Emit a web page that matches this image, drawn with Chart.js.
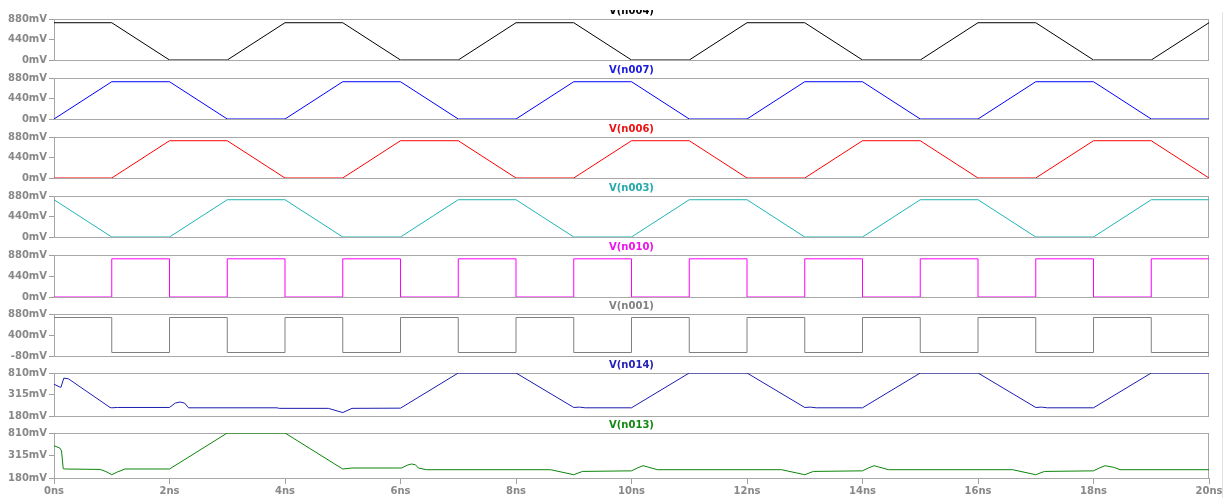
<!DOCTYPE html>
<html><head><meta charset="utf-8">
<script src="https://cdn.jsdelivr.net/npm/chart.js@4.4.1/dist/chart.umd.min.js"></script>
<style>
html,body{margin:0;padding:0;background:#fff;width:1225px;height:498px;overflow:hidden;}
#wrap{position:relative;width:1225px;height:498px;}
canvas{position:absolute;left:0;}
#topmask{position:absolute;left:0;top:0;width:1225px;height:10px;background:#fff;z-index:5;}
#edge{position:absolute;left:1222px;top:12px;width:1px;height:486px;background:#e2e2e2;z-index:4;}
</style></head><body><div id="wrap"><div id="topmask"></div><div id="edge"></div></div>
<script>
// ---------- DATA ----------
const traceNames = ["V(n004)","V(n007)","V(n006)","V(n003)","V(n010)","V(n001)","V(n014)","V(n013)"];

// time points (ns)
const tTrap = [0,1,2,3,4,5,6,7,8,9,10,11,12,13,14,15,16,17,18,19,20];
const vN004 = [800,800,0,0,800,800,0,0,800,800,0,0,800,800,0,0,800,800,0,0,800];
const vN007 = [0,800,800,0,0,800,800,0,0,800,800,0,0,800,800,0,0,800,800,0,0];
const vN006 = [0,0,800,800,0,0,800,800,0,0,800,800,0,0,800,800,0,0,800,800,0];
const vN003 = [800,0,0,800,800,0,0,800,800,0,0,800,800,0,0,800,800,0,0,800,800];
// square waves (value held from t[i] to t[i+1])
const vN010 = [0,800,0,800,0,800,0,800,0,800,0,800,0,800,0,800,0,800,0,800,800];
const vN001 = [800,0,800,0,800,0,800,0,800,0,800,0,800,0,800,0,800,0,800,0,0];

const tN014 = [0,0.1,0.12,0.17,0.25,0.97,1.0,1.1,2.0,2.1,2.18,2.26,2.33,3.86,3.9,4.75,5.0,5.16,6.0,7.0,8.0,9.0,9.1,9.2,10.0,11.0,12.0,13.0,13.1,13.2,14.0,15.0,16.0,17.0,17.1,17.2,18.0,19.0,20.0];
const vN014 = [645,605,600,735,725,305,300,305,305,370,385,370,300,300,292,292,230,292,295,810,810,305,310,300,300,810,810,305,310,300,300,810,810,305,310,300,300,810,810];

const tN013 = [0,0.1,0.13,0.16,0.2,0.8,0.9,1.0,1.1,1.23,2.0,3.0,4.0,5.0,5.16,5.9,6.02,6.12,6.19,6.26,6.31,6.45,8.6,9.0,9.15,10.0,10.1,10.2,10.3,10.45,12.6,13.0,13.15,14.0,14.1,14.2,14.3,14.45,16.6,17.0,17.15,18.0,18.1,18.2,18.35,18.46,20.0];
const vN013 = [632,600,560,310,306,300,270,226,265,306,306,810,810,306,320,320,320,360,376,365,320,296,296,226,272,280,320,352,330,296,296,226,272,280,320,352,330,296,296,226,272,280,320,352,330,296,296];

// axis ticks
const yTickValsA = [0,440,880];   const yTickLabelsA = ["0mV","440mV","880mV"];
const yTickValsB = [-80,400,880]; const yTickLabelsB = ["-80mV","400mV","880mV"];
const yTickValsC = [180,495,810]; const yTickLabelsC = ["180mV","315mV","810mV"];
const xTickVals = [0,2,4,6,8,10,12,14,16,18,20];
const xTickLabels = ["0ns","2ns","4ns","6ns","8ns","10ns","12ns","14ns","16ns","18ns","20ns"];

// ---------- LAYOUT / STYLE ----------
const panelTop = [19,78,137,196,255,314,373,433];
const panelH   = [41,41,41,41,42,42,43,45];
const colors = ["#000000","#0000ff","#ff0000","#1fb5b5","#ff00ff","#808080","#1c1cb0","#0a850a"];
const titleColors = ["#000000","#1a1ae0","#ee1111","#22aaaa","#ee11ee","#808080","#2222b8","#118811"];
const FONT = {family:"'DejaVu Sans', sans-serif", size:10, weight:'bold'};

const panels = [
  {t:tTrap, v:vN004, step:false, yv:yTickValsA, yl:yTickLabelsA, min:0, max:880},
  {t:tTrap, v:vN007, step:false, yv:yTickValsA, yl:yTickLabelsA, min:0, max:880},
  {t:tTrap, v:vN006, step:false, yv:yTickValsA, yl:yTickLabelsA, min:0, max:880},
  {t:tTrap, v:vN003, step:false, yv:yTickValsA, yl:yTickLabelsA, min:0, max:880},
  {t:tTrap, v:vN010, step:'before', yv:yTickValsA, yl:yTickLabelsA, min:0, max:880},
  {t:tTrap, v:vN001, step:'before', yv:yTickValsB, yl:yTickLabelsB, min:-80, max:880},
  {t:tN014, v:vN014, step:false, yv:yTickValsC, yl:yTickLabelsC, min:180, max:810},
  {t:tN013, v:vN013, step:false, yv:yTickValsC, yl:yTickLabelsC, min:180, max:810}
];

const decor = {
  id:'decor',
  beforeDatasetsDraw(chart, args, opts){
    const a = chart.chartArea, c = chart.ctx;
    c.save();
    c.strokeStyle = '#a8a8a8'; c.lineWidth = 1;
    c.strokeRect(a.left+0.5, a.top+0.5, a.right-a.left-1, a.bottom-a.top);
    c.restore();
  },
  afterDraw(chart, args, opts){
    const a = chart.chartArea, c = chart.ctx;
    c.save();
    c.font = "bold 10px 'DejaVu Sans', sans-serif";
    c.fillStyle = opts.color;
    c.textAlign = 'center'; c.textBaseline = 'alphabetic';
    c.fillText(opts.text, (a.left+a.right)/2, a.top-5);
    c.restore();
  }
};

const wrap = document.getElementById('wrap');
panels.forEach((p, i) => {
  const last = (i === panels.length-1);
  const cv = document.createElement('canvas');
  const top = panelTop[i] - 19;
  const h = last ? (498 - top) : (panelH[i] + 19 + 10);
  cv.width = 1225; cv.height = h;
  cv.style.top = top + 'px';
  cv.style.width = '1225px'; cv.style.height = h + 'px';
  wrap.appendChild(cv);
  new Chart(cv, {
    type:'line',
    data:{datasets:[{
      data: p.t.map((x,k)=>({x:x, y:p.v[k]})),
      borderColor: colors[i], borderWidth:1, pointRadius:0, tension:0,
      stepped: p.step, fill:false
    }]},
    options:{
      responsive:false, animation:false, devicePixelRatio:1,
      layout:{padding:{top:19, bottom: last?0:10, left:0, right:16}},
      plugins:{legend:{display:false}, tooltip:{enabled:false},
        decor:{text:traceNames[i], color:titleColors[i]}},
      scales:{
        x:{type:'linear', min:0, max:20, display:last,
          afterBuildTicks:(s)=>{ s.ticks = xTickVals.map(v=>({value:v})); },
          afterFit:(s)=>{ s.height = last ? 20 : 0; },
          grid:{drawOnChartArea:false, tickLength:6, color:'#a0a0a0'},
          border:{display:false},
          ticks:{padding:1, color:'#888', font:FONT, maxRotation:0, autoSkip:false,
            callback:(v,idx)=>xTickLabels[idx]}
        },
        y:{type:'linear', min:p.min, max:p.max,
          afterBuildTicks:(s)=>{ s.ticks = p.yv.map(v=>({value:v})); },
          afterFit:(s)=>{ s.width = 54; },
          grid:{drawOnChartArea:false, tickLength:5, color:'#a0a0a0'},
          border:{display:false},
          ticks:{padding:2, color:'#888', font:FONT, autoSkip:false,
            callback:(v,idx)=>p.yl[idx]}
        }
      }
    },
    plugins:[decor]
  });
});
</script>
</body></html>
